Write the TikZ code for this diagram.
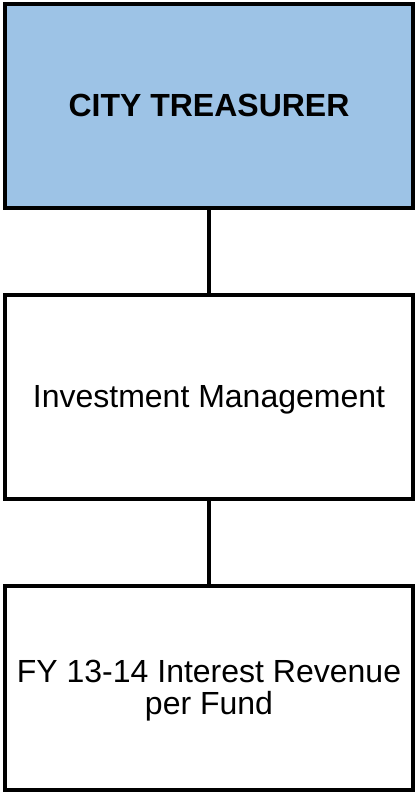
\documentclass[tikz,border=0pt]{standalone}
\usepackage{fontspec}
\setmainfont{Liberation Sans}
\usepackage{xcolor}
\usepackage{tikz}
\definecolor{chiefblue}{RGB}{157,195,230}
\def\largeur{415}
\def\hauteur{793}
\tikzset{
  unitbox/.style={draw=black, line width=4pt, minimum width=408pt, minimum height=204pt,
    inner sep=0pt, text depth=0pt, align=center, font=\fontsize{32}{32}\selectfont},
  link/.style={line width=4pt}
}

\begin{document}
\begin{tikzpicture}[x=1pt, y=1pt]
\useasboundingbox (0,0) rectangle (\largeur,-\hauteur);
    \node[unitbox, fill=chiefblue, font=\fontsize{32}{32}\selectfont\bfseries] (treasurer) at (209,-105.5) {CITY TREASURER};
    \node[unitbox] (invest) at (209,-396.5) {Investment Management};
    \node[unitbox] (revenue) at (209,-687.5) {FY 13-14 Interest Revenue\\per Fund};
    \draw[link] (treasurer.south) -- (invest.north);
    \draw[link] (invest.south) -- (revenue.north);
\end{tikzpicture}
\end{document}
